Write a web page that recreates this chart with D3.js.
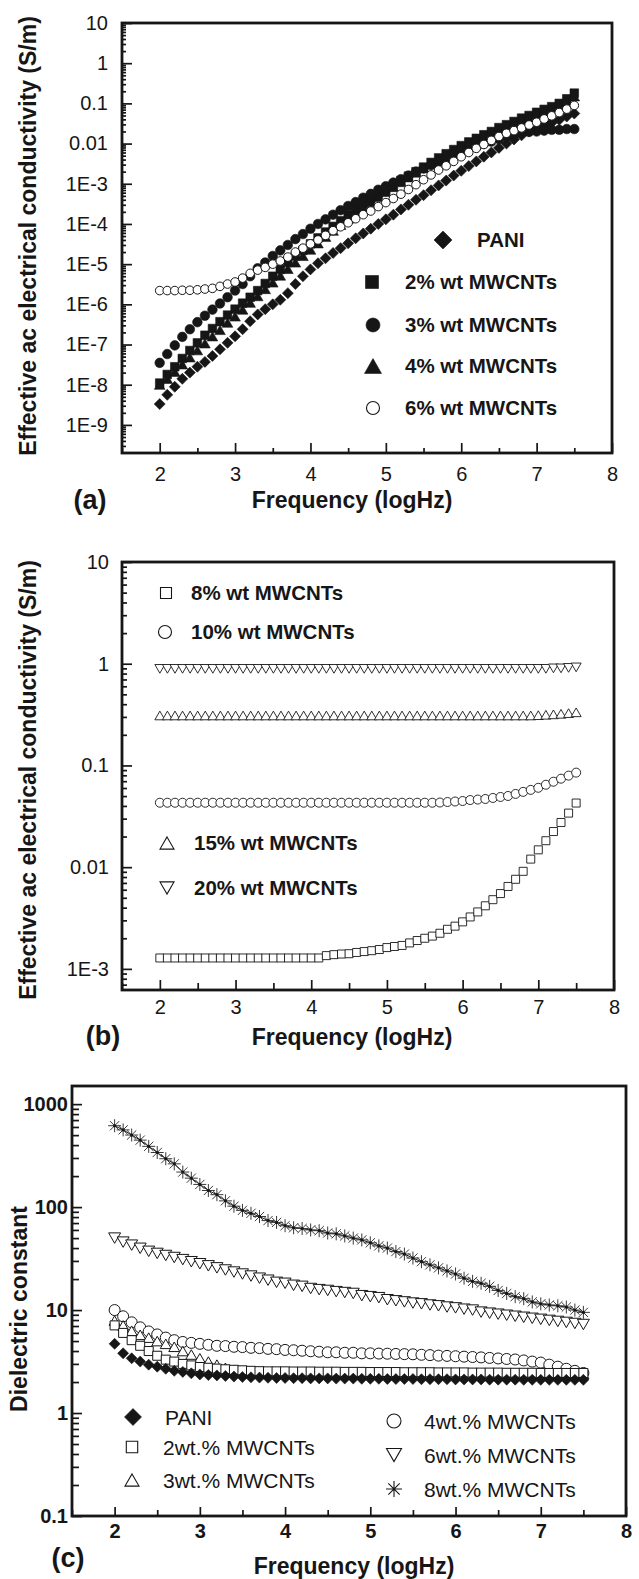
<!DOCTYPE html>
<html>
<head>
<meta charset="utf-8">
<script src="https://cdn.jsdelivr.net/npm/d3@7"></script>
<style>
  body { margin: 0; background: #fff; }
  svg text { font-family: "Liberation Sans", Arial, Helvetica, sans-serif; }
</style>
</head>
<body>
<svg id="chart" width="639" height="1579"></svg>
<script>
// frequency (log Hz), same sampling for every series
const logFreq = [2.0, 2.1, 2.2, 2.3, 2.4, 2.5, 2.6, 2.7, 2.8, 2.9,
                 3.0, 3.1, 3.2, 3.3, 3.4, 3.5, 3.6, 3.7, 3.8, 3.9,
                 4.0, 4.1, 4.2, 4.3, 4.4, 4.5, 4.6, 4.7, 4.8, 4.9,
                 5.0, 5.1, 5.2, 5.3, 5.4, 5.5, 5.6, 5.7, 5.8, 5.9,
                 6.0, 6.1, 6.2, 6.3, 6.4, 6.5, 6.6, 6.7, 6.8, 6.9,
                 7.0, 7.1, 7.2, 7.3, 7.4, 7.5];

// (a) ac conductivity, S/m
const condPANI = [3.3e-9, 5.6e-9, 8.9e-9, 1.4e-8, 2.0e-8, 2.8e-8, 3.7e-8, 5.2e-8, 7.6e-8, 1.1e-7,
                  1.6e-7, 2.4e-7, 3.8e-7, 5.6e-7, 7.6e-7, 1.0e-6, 1.3e-6, 1.9e-6, 3.2e-6, 5.0e-6,
                  7.4e-6, 1.05e-5, 1.4e-5, 1.9e-5, 2.5e-5, 3.3e-5, 4.4e-5, 5.8e-5, 7.6e-5, 1.0e-4,
                  1.3e-4, 1.7e-4, 2.3e-4, 3.0e-4, 4.0e-4, 5.2e-4, 6.9e-4, 9.1e-4, 1.2e-3, 1.6e-3,
                  2.1e-3, 2.75e-3, 3.6e-3, 4.7e-3, 6.0e-3, 7.8e-3, 1.0e-2, 1.26e-2, 1.6e-2, 2.0e-2,
                  2.4e-2, 2.8e-2, 3.3e-2, 3.9e-2, 4.7e-2, 5.6e-2];
const cond2 = [1.1e-8, 1.8e-8, 2.8e-8, 4.5e-8, 7.1e-8, 1.1e-7, 1.7e-7, 2.5e-7, 3.7e-7, 5.4e-7,
               7.6e-7, 1.07e-6, 1.5e-6, 2.2e-6, 3.3e-6, 5.0e-6, 7.4e-6, 1.1e-5, 1.6e-5, 2.2e-5,
               3.2e-5, 4.5e-5, 6.3e-5, 8.7e-5, 1.2e-4, 1.7e-4, 2.3e-4, 3.2e-4, 4.2e-4, 5.5e-4,
               7.2e-4, 9.3e-4, 1.2e-3, 1.55e-3, 2.0e-3, 2.6e-3, 3.4e-3, 4.4e-3, 5.6e-3, 7.1e-3,
               8.9e-3, 1.1e-2, 1.35e-2, 1.66e-2, 2.0e-2, 2.5e-2, 2.95e-2, 3.55e-2, 4.3e-2, 5.0e-2,
               6.0e-2, 7.1e-2, 8.3e-2, 0.1, 0.13, 0.18];
const cond3 = [3.5e-8, 5.8e-8, 9.5e-8, 1.55e-7, 2.4e-7, 3.6e-7, 5.2e-7, 7.4e-7, 1.05e-6, 1.5e-6,
               2.2e-6, 3.2e-6, 5.0e-6, 7.9e-6, 1.1e-5, 1.6e-5, 2.2e-5, 3.0e-5, 4.2e-5, 5.6e-5,
               7.6e-5, 1.0e-4, 1.3e-4, 1.7e-4, 2.2e-4, 2.8e-4, 3.5e-4, 4.5e-4, 5.6e-4, 7.1e-4,
               8.7e-4, 1.07e-3, 1.3e-3, 1.6e-3, 2.0e-3, 2.4e-3, 2.9e-3, 3.5e-3, 4.2e-3, 5.0e-3,
               6.0e-3, 7.1e-3, 8.3e-3, 9.8e-3, 1.12e-2, 1.3e-2, 1.5e-2, 1.66e-2, 1.8e-2, 1.95e-2,
               2.0e-2, 2.1e-2, 2.2e-2, 2.2e-2, 2.3e-2, 2.3e-2];
const cond4 = [1.0e-8, 1.4e-8, 2.1e-8, 3.2e-8, 4.8e-8, 7.2e-8, 1.07e-7, 1.6e-7, 2.3e-7, 3.5e-7,
               5.0e-7, 7.4e-7, 1.1e-6, 1.6e-6, 2.4e-6, 3.5e-6, 5.2e-6, 7.6e-6, 1.1e-5, 1.6e-5,
               2.3e-5, 3.3e-5, 4.8e-5, 6.8e-5, 9.5e-5, 1.35e-4, 1.9e-4, 2.6e-4, 3.5e-4, 4.7e-4,
               6.3e-4, 8.3e-4, 1.1e-3, 1.45e-3, 1.9e-3, 2.45e-3, 3.2e-3, 4.1e-3, 5.2e-3, 6.6e-3,
               8.3e-3, 1.02e-2, 1.26e-2, 1.55e-2, 1.9e-2, 2.3e-2, 2.75e-2, 3.3e-2, 3.9e-2, 4.6e-2,
               5.4e-2, 6.3e-2, 7.4e-2, 8.9e-2, 0.112, 0.15];
const cond6 = [2.2e-6, 2.2e-6, 2.2e-6, 2.24e-6, 2.24e-6, 2.3e-6, 2.4e-6, 2.5e-6, 2.8e-6, 3.2e-6,
               3.6e-6, 4.5e-6, 5.9e-6, 7.1e-6, 8.3e-6, 1.0e-5, 1.2e-5, 1.5e-5, 2.0e-5, 2.5e-5,
               3.2e-5, 4.0e-5, 5.2e-5, 6.8e-5, 8.5e-5, 1.07e-4, 1.35e-4, 1.7e-4, 2.1e-4, 2.7e-4,
               3.4e-4, 4.3e-4, 5.5e-4, 7.2e-4, 9.5e-4, 1.26e-3, 1.66e-3, 2.2e-3, 2.8e-3, 3.6e-3,
               4.7e-3, 6.0e-3, 7.6e-3, 9.5e-3, 1.2e-2, 1.5e-2, 1.8e-2, 2.1e-2, 2.45e-2, 2.9e-2,
               3.4e-2, 4.1e-2, 4.9e-2, 5.9e-2, 7.2e-2, 8.9e-2];

// (b) ac conductivity, S/m
const cond8 = [1.28e-3, 1.28e-3, 1.28e-3, 1.28e-3, 1.28e-3, 1.28e-3, 1.28e-3, 1.28e-3, 1.28e-3, 1.28e-3,
               1.28e-3, 1.28e-3, 1.28e-3, 1.28e-3, 1.28e-3, 1.28e-3, 1.28e-3, 1.28e-3, 1.28e-3, 1.28e-3,
               1.28e-3, 1.28e-3, 1.35e-3, 1.38e-3, 1.4e-3, 1.41e-3, 1.45e-3, 1.48e-3, 1.51e-3, 1.55e-3,
               1.62e-3, 1.66e-3, 1.7e-3, 1.8e-3, 1.9e-3, 2.0e-3, 2.1e-3, 2.24e-3, 2.45e-3, 2.63e-3,
               2.9e-3, 3.24e-3, 3.63e-3, 4.17e-3, 4.79e-3, 5.5e-3, 6.46e-3, 7.6e-3, 9.1e-3, 1.2e-2,
               1.48e-2, 1.82e-2, 2.24e-2, 2.75e-2, 3.4e-2, 4.27e-2];
const cond10 = [0.043, 0.043, 0.043, 0.043, 0.043, 0.043, 0.043, 0.043, 0.043, 0.043,
                0.043, 0.043, 0.043, 0.043, 0.043, 0.043, 0.043, 0.043, 0.043, 0.043,
                0.043, 0.043, 0.043, 0.043, 0.043, 0.043, 0.043, 0.043, 0.043, 0.043,
                0.043, 0.043, 0.043, 0.043, 0.043, 0.043, 0.043, 0.0432, 0.0437, 0.0442,
                0.0447, 0.0457, 0.0462, 0.0468, 0.0479, 0.049, 0.0501, 0.0525, 0.055, 0.0575,
                0.0603, 0.0646, 0.0692, 0.0741, 0.0794, 0.085];
const cond15 = [0.31, 0.31, 0.31, 0.31, 0.31, 0.31, 0.31, 0.31, 0.31, 0.31,
                0.31, 0.31, 0.31, 0.31, 0.31, 0.31, 0.31, 0.31, 0.31, 0.31,
                0.31, 0.31, 0.31, 0.31, 0.31, 0.31, 0.31, 0.31, 0.31, 0.31,
                0.31, 0.31, 0.31, 0.31, 0.31, 0.31, 0.31, 0.31, 0.31, 0.31,
                0.31, 0.31, 0.31, 0.31, 0.31, 0.31, 0.31, 0.31, 0.31, 0.31,
                0.312, 0.315, 0.318, 0.322, 0.327, 0.333];
const cond20 = [0.89, 0.89, 0.89, 0.89, 0.89, 0.89, 0.89, 0.89, 0.89, 0.89,
                0.89, 0.89, 0.89, 0.89, 0.89, 0.89, 0.89, 0.89, 0.89, 0.89,
                0.89, 0.89, 0.89, 0.89, 0.89, 0.89, 0.89, 0.89, 0.89, 0.89,
                0.89, 0.89, 0.89, 0.89, 0.89, 0.89, 0.89, 0.89, 0.89, 0.89,
                0.89, 0.89, 0.89, 0.89, 0.89, 0.89, 0.89, 0.89, 0.89, 0.89,
                0.89, 0.89, 0.9, 0.9, 0.91, 0.92];

// (c) dielectric constant
const epsPANI = [4.7, 3.8, 3.4, 3.16, 2.95, 2.82, 2.69, 2.57, 2.51, 2.43,
                 2.37, 2.34, 2.32, 2.29, 2.26, 2.24, 2.22, 2.21, 2.2, 2.19,
                 2.19, 2.18, 2.18, 2.17, 2.17, 2.17, 2.16, 2.16, 2.16, 2.15,
                 2.15, 2.15, 2.14, 2.14, 2.14, 2.14, 2.13, 2.13, 2.13, 2.13,
                 2.12, 2.12, 2.12, 2.12, 2.11, 2.11, 2.11, 2.11, 2.1, 2.1,
                 2.1, 2.1, 2.1, 2.1, 2.1, 2.1];
const eps2 = [7.1, 6.0, 5.1, 4.5, 4.0, 3.6, 3.3, 3.16, 3.0, 2.9,
              2.8, 2.75, 2.7, 2.66, 2.63, 2.6, 2.57, 2.55, 2.54, 2.54,
              2.54, 2.53, 2.53, 2.53, 2.52, 2.52, 2.52, 2.51, 2.51, 2.51,
              2.5, 2.5, 2.5, 2.5, 2.49, 2.49, 2.49, 2.49, 2.48, 2.48,
              2.48, 2.48, 2.47, 2.47, 2.47, 2.47, 2.46, 2.46, 2.46, 2.46,
              2.45, 2.45, 2.45, 2.45, 2.45, 2.45];
const eps3 = [7.9, 7.1, 6.3, 5.75, 5.4, 5.0, 4.7, 4.4, 4.0, 3.7,
              3.4, 3.16, 2.95, 2.75, 2.63, 2.57, 2.51, 2.48, 2.46, 2.45,
              2.45, 2.45, 2.44, 2.44, 2.44, 2.43, 2.43, 2.43, 2.42, 2.42,
              2.42, 2.42, 2.41, 2.41, 2.41, 2.41, 2.4, 2.4, 2.4, 2.4,
              2.4, 2.4, 2.4, 2.4, 2.4, 2.4, 2.4, 2.4, 2.4, 2.4,
              2.4, 2.4, 2.4, 2.4, 2.4, 2.4];
const eps4 = [10, 8.7, 7.6, 6.8, 6.2, 5.8, 5.4, 5.1, 4.9, 4.8,
              4.7, 4.6, 4.5, 4.47, 4.4, 4.37, 4.3, 4.27, 4.2, 4.17,
              4.1, 4.07, 4.03, 3.98, 3.94, 3.89, 3.89, 3.85, 3.85, 3.8,
              3.8, 3.78, 3.77, 3.75, 3.73, 3.72, 3.68, 3.65, 3.61, 3.59,
              3.56, 3.53, 3.5, 3.47, 3.43, 3.39, 3.35, 3.31, 3.24, 3.16,
              3.09, 2.95, 2.82, 2.69, 2.57, 2.45];
const eps6 = [50, 45.7, 42.7, 39.8, 37.2, 35.5, 33.9, 32.4, 30.9, 29.5,
              28.2, 26.9, 25.7, 24.5, 23.4, 22.4, 21.4, 20.4, 19.5, 18.6,
              18.2, 17.4, 17, 16.2, 15.8, 15.5, 15.1, 14.8, 14.5, 13.8,
              13.5, 13.2, 12.6, 12.3, 12, 11.7, 11.5, 11.2, 11, 10.7,
              10.5, 10.2, 10, 9.55, 9.33, 9.12, 8.91, 8.71, 8.51, 8.32,
              8.13, 7.94, 7.76, 7.59, 7.41, 7.24];
const eps8 = [617, 562, 501, 447, 389, 339, 295, 263, 219, 191,
              166, 145, 132, 115, 102, 93, 87, 81, 74, 71,
              66, 63, 62, 60, 59, 56, 55, 52.5, 50, 48,
              45, 42, 40, 37, 35, 32, 29.5, 27.5, 25.7, 24,
              22.4, 20.4, 19, 18.2, 17, 15.5, 14.5, 13.5, 12.9, 12,
              11.5, 11.2, 11, 10.7, 10, 9.5];

// axis ticks
const xTicks = [2, 3, 4, 5, 6, 7, 8];
const yTicksA = [10, 1, 0.1, 0.01, 1e-3, 1e-4, 1e-5, 1e-6, 1e-7, 1e-8, 1e-9];
const yLabelsA = ["10", "1", "0.1", "0.01", "1E-3", "1E-4", "1E-5", "1E-6", "1E-7", "1E-8", "1E-9"];
const yTicksB = [10, 1, 0.1, 0.01, 1e-3];
const yLabelsB = ["10", "1", "0.1", "0.01", "1E-3"];
const yTicksC = [1000, 100, 10, 1, 0.1];
const yLabelsC = ["1000", "100", "10", "1", "0.1"];

const ink = "#161616";
const svg = d3.select("#chart");

// marker shapes, size = half width in px
const shapes = {
  circle:  { draw(c, r) { c.moveTo(r, 0); c.arc(0, 0, r, 0, 2 * Math.PI); } },
  square:  { draw(c, r) { c.rect(-r, -r, 2 * r, 2 * r); } },
  diamond: { draw(c, r) { c.moveTo(0, -r); c.lineTo(r, 0); c.lineTo(0, r); c.lineTo(-r, 0); c.closePath(); } },
  triUp:   { draw(c, r) { const h = r * 0.87; c.moveTo(0, -h); c.lineTo(r, h); c.lineTo(-r, h); c.closePath(); } },
  triDown: { draw(c, r) { const h = r * 0.87; c.moveTo(-r, -h); c.lineTo(r, -h); c.lineTo(0, h); c.closePath(); } },
  star:    { draw(c, r) {
    const d = r * 0.71;
    c.moveTo(-r, 0); c.lineTo(r, 0); c.moveTo(0, -r); c.lineTo(0, r);
    c.moveTo(-d, -d); c.lineTo(d, d); c.moveTo(-d, d); c.lineTo(d, -d);
  } }
};

function logMinors(domain) {
  let out = [];
  for (let e = Math.floor(Math.log10(domain[0])); e < Math.ceil(Math.log10(domain[1])); e++) {
    for (let k = 2; k <= 9; k++) {
      let v = k * Math.pow(10, e);
      if (v > domain[0] && v < domain[1]) out.push(v);
    }
  }
  return out;
}

function panel(p) {
  let x = d3.scaleLinear().domain([1.5, 8]).range([p.left, p.right]);
  let y = d3.scaleLog().domain(p.yDomain).range([p.bottom, p.top]);
  let g = svg.append("g");

  let xMinor = [1.5, 2.5, 3.5, 4.5, 5.5, 6.5, 7.5];
  g.append("g").attr("transform", "translate(0," + p.bottom + ")")
   .call(d3.axisBottom(x).tickValues(xMinor).tickSize(-p.tick[1]).tickFormat(""));
  g.append("g").attr("transform", "translate(0," + p.bottom + ")")
   .call(d3.axisBottom(x).tickValues(xTicks).tickSize(-p.tick[0]).tickPadding(p.xPad).tickFormat(d3.format("d")));
  g.append("g").attr("transform", "translate(" + p.left + ",0)")
   .call(d3.axisLeft(y).tickValues(logMinors(p.yDomain)).tickSize(-p.tick[3]).tickFormat(""));
  g.append("g").attr("transform", "translate(" + p.left + ",0)")
   .call(d3.axisLeft(y).tickValues(p.yTicks).tickSize(-p.tick[2]).tickPadding(p.yPad)
         .tickFormat((d, i) => p.yLabels[i]));

  g.selectAll(".domain").remove();
  g.selectAll(".tick line").attr("stroke", ink).attr("stroke-width", 1.7);
  g.selectAll(".tick text").attr("fill", ink).attr("font-size", p.tickFont)
   .attr("font-weight", p.tickBold ? "bold" : "normal");

  g.append("rect")
   .attr("x", p.left).attr("y", p.top)
   .attr("width", p.right - p.left).attr("height", p.bottom - p.top)
   .attr("fill", "none").attr("stroke", ink).attr("stroke-width", 2.8);

  // titles
  g.append("text").attr("x", p.xTitle[0]).attr("y", p.xTitle[1])
   .attr("text-anchor", "middle").attr("font-size", 23).attr("font-weight", "bold").attr("fill", ink)
   .text("Frequency (logHz)");
  g.append("text").attr("transform", "translate(" + p.yTitle[0] + "," + p.yTitle[1] + ") rotate(-90)")
   .attr("text-anchor", "middle").attr("font-size", 23).attr("font-weight", "bold").attr("fill", ink)
   .text(p.yText);
  g.append("text").attr("x", p.tag[0]).attr("y", p.tag[1])
   .attr("text-anchor", "middle").attr("font-size", 27).attr("font-weight", "bold").attr("fill", ink)
   .text(p.tagText);

  return { x: x, y: y, g: g };
}

function series(P, s, values) {
  let pts = logFreq.map((f, i) => [f, values[i]]);
  let layer = P.g.append("g");
  if (s.line) {
    layer.append("path").datum(pts)
      .attr("d", d3.line().x(d => P.x(d[0])).y(d => P.y(d[1])))
      .attr("fill", "none").attr("stroke", ink).attr("stroke-width", 1);
  }
  layer.selectAll("path.m").data(pts).join("path").attr("class", "m")
    .attr("transform", d => "translate(" + P.x(d[0]) + "," + P.y(d[1]) + ")")
    .attr("d", d3.symbol().type(shapes[s.shape]).size(s.r))
    .attr("fill", s.filled ? ink : (s.shape === "star" ? "none" : "#fff"))
    .attr("stroke", s.shape === "star" ? "#3a3a3a" : ink)
    .attr("stroke-width", s.filled ? 0.6 : s.sw);
  if (s.shape === "star") {
    layer.selectAll("circle").data(pts).join("circle")
      .attr("cx", d => P.x(d[0])).attr("cy", d => P.y(d[1])).attr("r", 1.6).attr("fill", ink);
  }
}

function legend(P, items, font, bold) {
  items.forEach(it => {
    P.g.append("path")
      .attr("transform", "translate(" + it.mx + "," + it.cy + ")")
      .attr("d", d3.symbol().type(shapes[it.shape]).size(it.r))
      .attr("fill", it.filled ? ink : (it.shape === "star" ? "none" : "#fff"))
      .attr("stroke", ink).attr("stroke-width", it.filled ? 0.6 : 1.1);
    P.g.append("text").attr("x", it.tx).attr("y", it.cy).attr("dy", "0.36em")
      .attr("font-size", font).attr("font-weight", bold ? "bold" : "normal").attr("fill", ink)
      .text(it.label);
  });
}

// ---------- (a)
let A = panel({
  left: 122, right: 612, top: 23, bottom: 453, yDomain: [2e-10, 10],
  yTicks: yTicksA, yLabels: yLabelsA, tick: [10, 5, 10, 4],
  xPad: 14, yPad: 14, tickFont: 20, tickBold: false,
  xTitle: [352, 508], yTitle: [36, 236], tag: [90, 509], tagText: "(a)",
  yText: "Effective ac electrical conductivity (S/m)"
});
series(A, { shape: "diamond", filled: true, r: 5.5 }, condPANI);
series(A, { shape: "square", filled: true, r: 4.3 }, cond2);
series(A, { shape: "circle", filled: true, r: 4.8 }, cond3);
series(A, { shape: "triUp", filled: true, r: 5.3 }, cond4);
series(A, { shape: "circle", filled: false, r: 4.3, sw: 1 }, cond6);
legend(A, [
  { shape: "diamond", filled: true, r: 9, mx: 443, tx: 477, cy: 240, label: "PANI" },
  { shape: "square", filled: true, r: 6.5, mx: 372, tx: 405, cy: 282, label: "2% wt MWCNTs" },
  { shape: "circle", filled: true, r: 7, mx: 373, tx: 405, cy: 325, label: "3% wt MWCNTs" },
  { shape: "triUp", filled: true, r: 8.5, mx: 373, tx: 405, cy: 366, label: "4% wt MWCNTs" },
  { shape: "circle", filled: false, r: 6.5, mx: 373, tx: 405, cy: 408, label: "6% wt MWCNTs" }
], 20.5, true);

// ---------- (b)
let B = panel({
  left: 122, right: 614, top: 562, bottom: 990, yDomain: [6.2e-4, 10],
  yTicks: yTicksB, yLabels: yLabelsB, tick: [10, 7, 10, 5],
  xPad: 10, yPad: 13, tickFont: 20, tickBold: false,
  xTitle: [352, 1045], yTitle: [36, 780], tag: [103, 1045], tagText: "(b)",
  yText: "Effective ac electrical conductivity (S/m)"
});
series(B, { shape: "square", filled: false, r: 4, sw: 0.9 }, cond8);
series(B, { shape: "circle", filled: false, r: 4.5, sw: 0.9 }, cond10);
series(B, { shape: "triUp", filled: false, r: 5, sw: 0.9 }, cond15);
series(B, { shape: "triDown", filled: false, r: 5, sw: 0.9 }, cond20);
legend(B, [
  { shape: "square", filled: false, r: 5.5, mx: 166, tx: 191, cy: 593, label: "8% wt MWCNTs" },
  { shape: "circle", filled: false, r: 6.5, mx: 165, tx: 191, cy: 632, label: "10% wt MWCNTs" },
  { shape: "triUp", filled: false, r: 7, mx: 167, tx: 194, cy: 843, label: "15% wt MWCNTs" },
  { shape: "triDown", filled: false, r: 7, mx: 167, tx: 194, cy: 888, label: "20% wt MWCNTs" }
], 20.5, true);

// ---------- (c)
let C = panel({
  left: 72, right: 626, top: 1086, bottom: 1516, yDomain: [0.1, 1500],
  yTicks: yTicksC, yLabels: yLabelsC, tick: [9, 6, 10, 7],
  xPad: 8, yPad: 4, tickFont: 20, tickBold: true,
  xTitle: [354, 1574], yTitle: [27, 1309], tag: [68, 1567], tagText: "(c)",
  yText: "Dielectric constant"
});
series(C, { shape: "star", filled: false, r: 6.5, sw: 1, line: true }, eps8);
series(C, { shape: "triDown", filled: false, r: 6, sw: 1 }, eps6);
series(C, { shape: "circle", filled: false, r: 5.5, sw: 1 }, eps4);
series(C, { shape: "triUp", filled: false, r: 5.5, sw: 1 }, eps3);
series(C, { shape: "square", filled: false, r: 4.5, sw: 1 }, eps2);
series(C, { shape: "diamond", filled: true, r: 5.5 }, epsPANI);
legend(C, [
  { shape: "diamond", filled: true, r: 8.5, mx: 133, tx: 165, cy: 1417, label: "PANI" },
  { shape: "square", filled: false, r: 5.7, mx: 132, tx: 163, cy: 1447, label: "2wt.% MWCNTs" },
  { shape: "triUp", filled: false, r: 7, mx: 132, tx: 163, cy: 1480, label: "3wt.% MWCNTs" },
  { shape: "circle", filled: false, r: 7, mx: 394, tx: 424, cy: 1421, label: "4wt.% MWCNTs" },
  { shape: "triDown", filled: false, r: 7.5, mx: 394, tx: 424, cy: 1455, label: "6wt.% MWCNTs" },
  { shape: "star", filled: false, r: 8, mx: 394, tx: 424, cy: 1489, label: "8wt.% MWCNTs" }
], 21, false);
</script>
</body>
</html>
